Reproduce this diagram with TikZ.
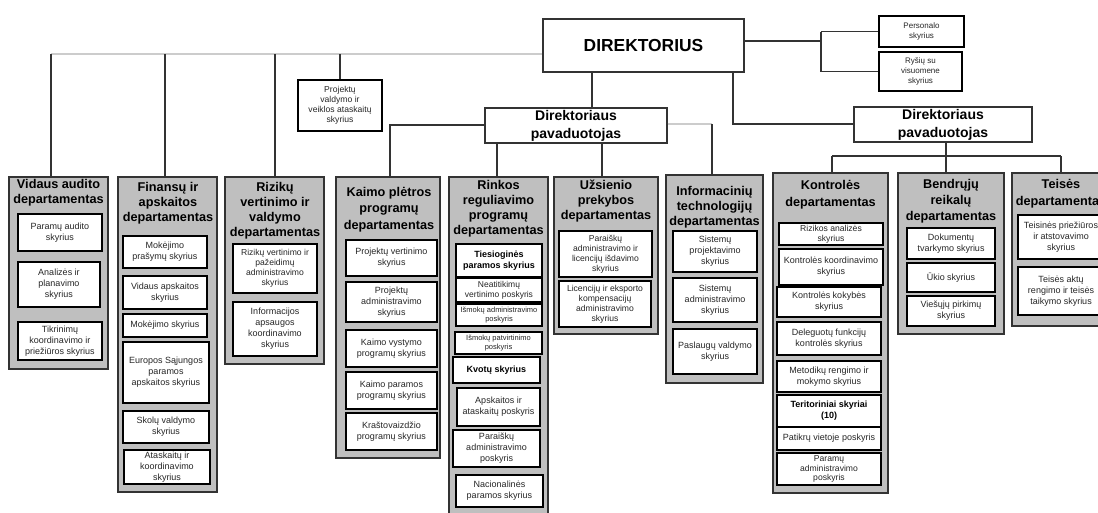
\documentclass[tikz,border=0pt]{standalone}
\usepackage{fontspec}
\setmainfont{Liberation Sans}
\tikzset{
  dept/.style={draw=black!80, line width=1.6pt, fill=black!25, inner sep=0pt},
  ibox/.style={draw=black, line width=1.3pt, fill=white, inner sep=0pt, align=center,
    text=black!85, font=\fontsize{9}{11}\selectfont},
  tightbox/.style={ibox, font=\fontsize{8.6}{10}\selectfont},
  smallbox/.style={ibox, font=\fontsize{7.5}{9.5}\selectfont},
  boldbox/.style={ibox, text=black, font=\bfseries\fontsize{9}{11}\selectfont},
  mainbox/.style={draw=black!80, line width=1.4pt, fill=white, inner sep=0pt, align=center},
  dtitle/.style={font=\bfseries\fontsize{12.7}{15}\selectfont, align=center, inner sep=0pt, anchor=north},
  conn/.style={draw=black!80, line width=1.1pt},
  lconn/.style={draw=black!20, line width=1.1pt},
}
% box from corner (x1,y1) to (x2,y2), text centred
\newcommand\ibx[7][ibox]{\node[#1, minimum width={(#5-#3)*1pt}, minimum height={(#6-#4)*1pt}]
  (#2) at ({(#3+#5)/2},{(#4+#6)/2}) {#7};}
\newcommand\dbx[5]{\node[dept, minimum width={(#4-#2)*1pt}, minimum height={(#5-#3)*1pt}]
  (#1) at ({(#2+#4)/2},{(#3+#5)/2}) {};}
\begin{document}
\begin{tikzpicture}[x=1pt, y=-1pt]
\clip (0,0) rectangle (1098,512);
\fill[white] (0,0) rectangle (1098,512);

% top level
\ibx[mainbox, font=\bfseries\fontsize{17.4}{20}\selectfont]{dir}{543}{19}{744}{72}{DIREKTORIUS}
\ibx[tightbox]{proj}{298}{80}{382}{131}{Projektų\\valdymo ir\\veiklos ataskaitų\\skyrius}
\ibx[ibox, font=\fontsize{8}{10}\selectfont]{pers}{879}{16}{964}{47}{Personalo\\skyrius}
\ibx[ibox, font=\fontsize{8}{10}\selectfont]{rys}{879}{52}{962}{91}{Ryšių su\\visuomene\\skyrius}
\ibx[mainbox, font=\bfseries\fontsize{14}{18}\selectfont]{lpav}{485}{108}{667}{143}{Direktoriaus\\pavaduotojas}
\ibx[mainbox, font=\bfseries\fontsize{14}{18}\selectfont]{rpav}{854}{107}{1032}{142}{Direktoriaus\\pavaduotojas}

% departments
\dbx{vid}{9}{177}{108}{369}
\dbx{fin}{118}{177}{217}{492}
\dbx{riz}{225}{177}{324}{364}
\dbx{kai}{336}{177}{440}{458}
\dbx{rin}{449}{177}{548}{525}
\dbx{uzs}{554}{177}{658}{334}
\dbx{inf}{666}{175}{763}{383}
\dbx{kon}{773}{173}{888}{493}
\dbx{ben}{898}{173}{1004}{334}
\dbx{tei}{1012}{173}{1112}{326}

\node[dtitle] at (58.5,179) {Vidaus audito\\departamentas};
\node[dtitle] at (168,182) {Finansų ir\\apskaitos\\departamentas};
\node[dtitle] at (275,182) {Rizikų\\vertinimo ir\\valdymo\\departamentas};
\node[dtitle, font=\bfseries\fontsize{12.7}{16.5}\selectfont] at (389,187) {Kaimo plėtros\\programų\\departamentas};
\node[dtitle] at (498.5,180) {Rinkos\\reguliavimo\\programų\\departamentas};
\node[dtitle] at (606,180) {Užsienio\\prekybos\\departamentas};
\node[dtitle] at (714.5,186) {Informacinių\\technologijų\\departamentas};
\node[dtitle, font=\bfseries\fontsize{12.7}{17}\selectfont] at (830.5,180) {Kontrolės\\departamentas};
\node[dtitle, font=\bfseries\fontsize{12.7}{16}\selectfont] at (951,179) {Bendrųjų\\reikalų\\departamentas};
\node[dtitle, font=\bfseries\fontsize{12.7}{17}\selectfont] at (1061,179) {Teisės\\departamentas};

% Vidaus audito
\ibx{v1}{18}{214}{102}{251}{Paramų audito\\skyrius}
\ibx{v2}{18}{262}{100}{307}{Analizės ir\\planavimo\\skyrius}
\ibx{v3}{18}{322}{102}{360}{Tikrinimų\\koordinavimo ir\\priežiūros skyrius}
% Finansu
\ibx{f1}{123}{236}{207}{268}{Mokėjimo\\prašymų skyrius}
\ibx{f2}{123}{276}{207}{309}{Vidaus apskaitos\\skyrius}
\ibx{f3}{123}{314}{207}{337}{Mokėjimo skyrius}
\ibx{f4}{123}{342}{209}{403}{Europos Sąjungos\\paramos\\apskaitos skyrius}
\ibx{f5}{123}{411}{209}{443}{Skolų valdymo\\skyrius}
\ibx{f6}{124}{450}{210}{484}{Ataskaitų ir\\koordinavimo\\skyrius}
% Riziku
\ibx[tightbox]{z1}{233}{244}{317}{293}{Rizikų vertinimo ir\\pažeidimų\\administravimo\\skyrius}
\ibx{z2}{233}{302}{317}{356}{Informacijos\\apsaugos\\koordinavimo\\skyrius}
% Kaimo
\ibx{k1}{346}{240}{437}{276}{Projektų vertinimo\\skyrius}
\ibx{k2}{346}{282}{437}{322}{Projektų\\administravimo\\skyrius}
\ibx{k3}{346}{330}{437}{367}{Kaimo vystymo\\programų skyrius}
\ibx{k4}{346}{372}{437}{409}{Kaimo paramos\\programų skyrius}
\ibx{k5}{346}{413}{437}{450}{Kraštovaizdžio\\programų skyrius}
% Rinkos
\ibx[boldbox]{r1}{456}{244}{542}{277}{Tiesioginės\\paramos skyrius}
\ibx[ibox, font=\fontsize{8.5}{10}\selectfont]{r2}{456}{278}{542}{302}{Neatitikimų\\vertinimo poskyris}
\ibx[smallbox]{r3}{456}{304}{542}{326}{Išmokų administravimo\\poskyris}
\ibx[smallbox]{r4}{455}{332}{542}{354}{Išmokų patvirtinimo\\poskyris}
\ibx[boldbox]{r5}{453}{357}{540}{383}{Kvotų skyrius}
\ibx{r6}{457}{388}{540}{426}{Apskaitos ir\\ataskaitų poskyris}
\ibx{r7}{453}{430}{540}{467}{Paraiškų\\administravimo\\poskyris}
\ibx{r8}{456}{475}{543}{507}{Nacionalinės\\paramos skyrius}
% Uzsienio
\ibx[tightbox]{u1}{559}{231}{652}{277}{Paraiškų\\administravimo ir\\licencijų išdavimo\\skyrius}
\ibx[tightbox]{u2}{559}{281}{651}{327}{Licencijų ir eksporto\\kompensacijų\\administravimo\\skyrius}
% Informaciniu
\ibx{i1}{673}{231}{757}{272}{Sistemų\\projektavimo\\skyrius}
\ibx{i2}{673}{278}{757}{322}{Sistemų\\administravimo\\skyrius}
\ibx{i3}{673}{329}{757}{374}{Paslaugų valdymo\\skyrius}
% Kontroles
\ibx[ibox, font=\fontsize{8.6}{9.6}\selectfont]{c1}{779}{223}{883}{245}{Rizikos analizės\\skyrius}
\ibx{c2}{779}{249}{883}{285}{Kontrolės koordinavimo\\skyrius}
\ibx{c3}{777}{287}{881}{317}{Kontrolės kokybės\\skyrius}
\ibx{c4}{777}{322}{881}{355}{Deleguotų funkcijų\\kontrolės skyrius}
\ibx{c5}{777}{361}{881}{392}{Metodikų rengimo ir\\mokymo skyrius}
\ibx[boldbox]{c6}{777}{395}{881}{427}{Teritoriniai skyriai\\(10)}
\ibx{c7}{777}{427}{881}{450}{Patikrų vietoje poskyris}
\ibx[ibox, font=\fontsize{8.6}{9.8}\selectfont]{c8}{777}{453}{881}{485}{Paramų\\administravimo\\poskyris}
% Bendruju
\ibx{b1}{907}{228}{995}{259}{Dokumentų\\tvarkymo skyrius}
\ibx{b2}{907}{263}{995}{292}{Ūkio skyrius}
\ibx{b3}{907}{296}{995}{326}{Viešųjų pirkimų\\skyrius}
% Teises
\ibx{t1}{1018}{215}{1104}{259}{Teisinės priežiūros\\ir atstovavimo\\skyrius}
\ibx{t2}{1018}{267}{1104}{315}{Teisės aktų\\rengimo ir teisės\\taikymo skyrius}

% connectors: top line
\coordinate (j1) at (51,54);
\coordinate (j2) at (165,54);
\coordinate (j3) at (275,54);
\draw[lconn] (j1) -- (j1 -| dir.west);
\draw[conn] (j1) -- (j1 |- vid.north);
\draw[conn] (j2) -- (j2 |- fin.north);
\draw[conn] (j3) -- (j3 |- riz.north);
\draw[conn] (proj.north) -- (proj.north |- j1);
% right staff units
\coordinate (rj) at (821,41);
\draw[conn] (dir.east |- rj) -- (rj);
\draw[conn] (pers.west -| rj) -- (rys.west -| rj);
\draw[conn] (pers.west) -- (pers.west -| rj);
\draw[conn] (rys.west) -- (rys.west -| rj);
% director to deputies
\coordinate (d1) at (592,72);
\draw[conn] (d1) -- (d1 |- lpav.north);
\coordinate (d2) at (733,124);
\draw[conn] (d2 |- dir.south) -- (d2) -- (d2 -| rpav.west);
% left deputy
\coordinate (l1) at (390,125);
\draw[conn] (l1 -| lpav.west) -- (l1) -- (l1 |- kai.north);
\coordinate (l2) at (497,143);
\draw[conn] (l2) -- (l2 |- rin.north);
\coordinate (l3) at (602,143);
\draw[conn] (l3) -- (l3 |- uzs.north);
\coordinate (l4) at (712,124);
\draw[lconn] (l4 -| lpav.east) -- (l4);
\draw[conn] (l4) -- (l4 |- inf.north);
% right deputy
\coordinate (q0) at (946,156);
\coordinate (q1) at (832,156);
\coordinate (q3) at (1061,156);
\draw[conn] (q0 |- rpav.south) -- (q0);
\draw[conn] (q1) -- (q3);
\draw[conn] (q1) -- (q1 |- kon.north);
\draw[conn] (q0) -- (q0 |- ben.north);
\draw[conn] (q3) -- (q3 |- tei.north);
\end{tikzpicture}
\end{document}
